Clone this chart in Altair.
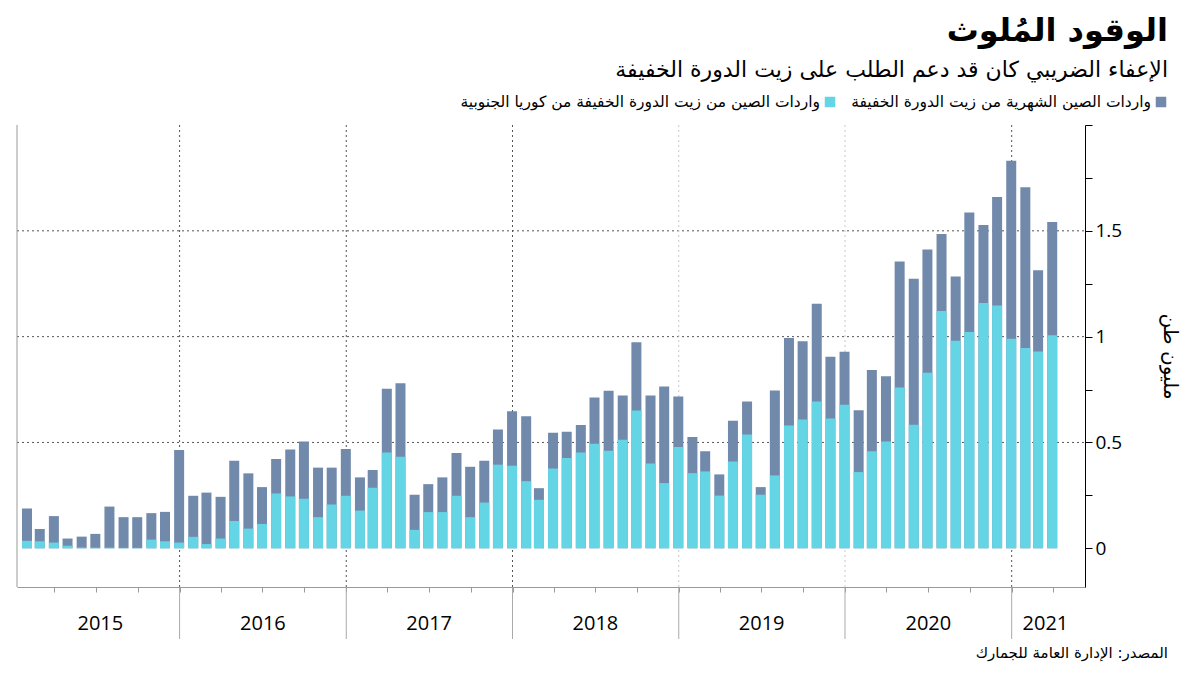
import altair as alt
import pandas as pd

# ---------------- data (million tonnes) ----------------
months = pd.date_range("2015-01-01", periods=75, freq="MS")

total = [
    0.188, 0.091, 0.152, 0.046, 0.055, 0.068, 0.197, 0.147, 0.147, 0.166, 0.172, 0.464,   # 2015
    0.248, 0.263, 0.243, 0.414, 0.354, 0.289, 0.422, 0.467, 0.505, 0.381, 0.381, 0.469,   # 2016
    0.335, 0.370, 0.754, 0.780, 0.253, 0.303, 0.335, 0.450, 0.385, 0.414, 0.561, 0.648,   # 2017
    0.624, 0.284, 0.546, 0.551, 0.583, 0.712, 0.744, 0.722, 0.974, 0.722, 0.764, 0.717,   # 2018
    0.526, 0.458, 0.349, 0.602, 0.693, 0.289, 0.745, 0.993, 0.978, 1.155, 0.905, 0.929,   # 2019
    0.652, 0.842, 0.813, 1.355, 1.273, 1.412, 1.485, 1.284, 1.586, 1.527, 1.660, 1.831,   # 2020
    1.706, 1.314, 1.542,                                                                    # 2021
]
korea = [
    0.035, 0.033, 0.027, 0.012, 0.004, 0.003, 0.003, 0.002, 0.002, 0.041, 0.033, 0.027,
    0.054, 0.020, 0.046, 0.129, 0.093, 0.115, 0.259, 0.245, 0.234, 0.147, 0.207, 0.248,
    0.178, 0.286, 0.452, 0.433, 0.087, 0.171, 0.171, 0.248, 0.147, 0.216, 0.395, 0.390,
    0.317, 0.229, 0.377, 0.426, 0.452, 0.494, 0.461, 0.513, 0.651, 0.400, 0.308, 0.479,
    0.355, 0.363, 0.249, 0.410, 0.537, 0.253, 0.344, 0.580, 0.608, 0.693, 0.613, 0.678,
    0.360, 0.458, 0.505, 0.760, 0.584, 0.829, 1.121, 0.981, 1.022, 1.159, 1.147, 0.990,
    0.946, 0.930, 1.006,
]

year_labels = ["2015", "2016", "2017", "2018", "2019", "2020", "2021"]
year_label_dates = ["2015-07-11T00:00:00", "2016-07-02T00:00:00", "2017-07-02T00:00:00",
                    "2018-07-02T00:00:00", "2019-07-02T00:00:00", "2020-07-02T00:00:00",
                    "2021-03-16T00:00:00"]
boundaries_dark = ["2016-01-01T00:00:00", "2017-01-01T00:00:00", "2018-01-01T00:00:00", "2021-01-01T00:00:00"]
boundaries_light = ["2019-01-01T00:00:00", "2020-01-01T00:00:00"]
boundaries_all = boundaries_dark + boundaries_light
grid_values = [0.5, 1.0, 1.5]
y_ticks = [0, 0.25, 0.5, 0.75, 1.0, 1.25, 1.5, 1.75, 2.0]

title = "الوقود المُلوث"
subtitle = "الإعفاء الضريبي كان قد دعم الطلب على زيت الدورة الخفيفة"
legend_total = "واردات الصين الشهرية من زيت الدورة الخفيفة"
legend_korea = "واردات الصين من زيت الدورة الخفيفة من كوريا الجنوبية"
y_title = "مليون طن"
source = "المصدر: الإدارة العامة للجمارك"

# ---------------- styling ----------------
DARK = "#7189ab"
CYAN = "#64d5e5"
AR_FONT = "DejaVu Sans"
NUM_FONT = "Open Sans"
W, H = 1068, 462

df = pd.DataFrame({
    "month": (months + pd.offsets.MonthEnd(0)).strftime("%Y-%m-%dT00:00:00"),
    "total": total,
    "korea": korea,
})

x_domain = [alt.DateTime(year=2015, month=1, date=20), alt.DateTime(year=2021, month=5, date=31)]
quarter_ticks = [alt.DateTime(year=y, month=m, date=1) for y in range(2015, 2022) for m in (1, 4, 7, 10)
                 if (y, m) > (2015, 1) and (y, m) <= (2021, 4)]

xscale = alt.Scale(domain=x_domain)
yscale = alt.Scale(domain=[-0.183, 2.0], nice=False, zero=False)

x_enc = alt.X("month:T", scale=xscale,
              axis=alt.Axis(values=quarter_ticks, labels=False, tickSize=5, tickColor="#999",
                            domainColor="#999", domainWidth=1, grid=False, title=None))
y_enc = alt.Y("total:Q", scale=yscale,
              axis=alt.Axis(orient="right", values=y_ticks, format=".2~f",
                            labelExpr="(datum.value==0||datum.value==0.5||datum.value==1||datum.value==1.5) ? datum.label : ''",
                            tickSize=7, tickColor="black", domainColor="black", grid=False,
                            labelFont=NUM_FONT, labelFontSize=19, labelColor="black", labelPadding=3,
                            title=y_title, titleAngle=90, titleFont=AR_FONT, titleFontSize=20,
                            titleFontWeight="normal", titleColor="black", titlePadding=38))

base = alt.Chart(df)

bars_total = base.mark_bar(size=10, color=DARK).encode(x=x_enc, y=y_enc, y2=alt.datum(0))
bars_korea = base.mark_bar(size=10, color=CYAN).encode(
    x=alt.X("month:T", scale=xscale), y=alt.Y("korea:Q", scale=yscale), y2=alt.datum(0))

hgrid = alt.Chart(pd.DataFrame({"v": grid_values})).mark_rule(
    color="#555", strokeDash=[2, 3], strokeWidth=1).encode(
    y=alt.Y("v:Q", scale=yscale), x=alt.value(0), x2=alt.value(W))

vgrid_dark = alt.Chart(pd.DataFrame({"d": boundaries_dark})).mark_rule(
    color="#555", strokeDash=[2, 3], strokeWidth=1).encode(
    x=alt.X("d:T", scale=xscale), y=alt.value(0), y2=alt.value(H))
vgrid_light = alt.Chart(pd.DataFrame({"d": boundaries_light})).mark_rule(
    color="#c8c8c8", strokeDash=[2, 3], strokeWidth=1).encode(
    x=alt.X("d:T", scale=xscale), y=alt.value(0), y2=alt.value(H))
separators = alt.Chart(pd.DataFrame({"d": boundaries_all})).mark_rule(
    color="#aaa", strokeWidth=1).encode(
    x=alt.X("d:T", scale=xscale), y=alt.value(H), y2=alt.value(H + 52))
left_line = alt.Chart(pd.DataFrame({"a": [0]})).mark_rule(color="#999", strokeWidth=1).encode(
    x=alt.value(0), y=alt.value(0), y2=alt.value(H))

year_text = alt.Chart(pd.DataFrame({"d": year_label_dates, "t": year_labels})).mark_text(
    font=NUM_FONT, fontSize=20, color="black", baseline="middle", align="center").encode(
    x=alt.X("d:T", scale=xscale), y=alt.value(H + 37), text="t:N")


def label(txt, x, y, size, weight="normal", color="black", align="right"):
    return alt.Chart(pd.DataFrame({"t": [txt]})).mark_text(
        font=AR_FONT, fontSize=size, fontWeight=weight, color=color, align=align,
        baseline="middle").encode(x=alt.value(x), y=alt.value(y), text="t:N")


def square(x, y, color):
    return alt.Chart(pd.DataFrame({"a": [0]})).mark_square(
        size=110, color=color, opacity=1).encode(x=alt.value(x), y=alt.value(y))


t_title = label(title, 1151, -94, 32, weight="bold")
t_sub = label(subtitle, 1151, -55, 22)
sq1 = square(1144, -23, DARK)
t_leg1 = label(legend_total, 1134, -23, 15.5)
sq2 = square(813, -23, CYAN)
t_leg2 = label(legend_korea, 803, -23, 15.5)
t_src = label(source, 1151, 528, 15)

chart = alt.layer(
    hgrid, vgrid_dark, vgrid_light, bars_total, bars_korea, separators, left_line, year_text,
    t_title, t_sub, sq1, t_leg1, sq2, t_leg2, t_src,
).properties(
    width=W, height=H,
    autosize=alt.AutoSizeParams(type="none"),
    padding={"left": 9, "top": 117, "right": 105, "bottom": 82},
    background="white",
).configure_view(stroke=None)

chart.save("out.html", embed_options={"renderer": "svg", "actions": False})
